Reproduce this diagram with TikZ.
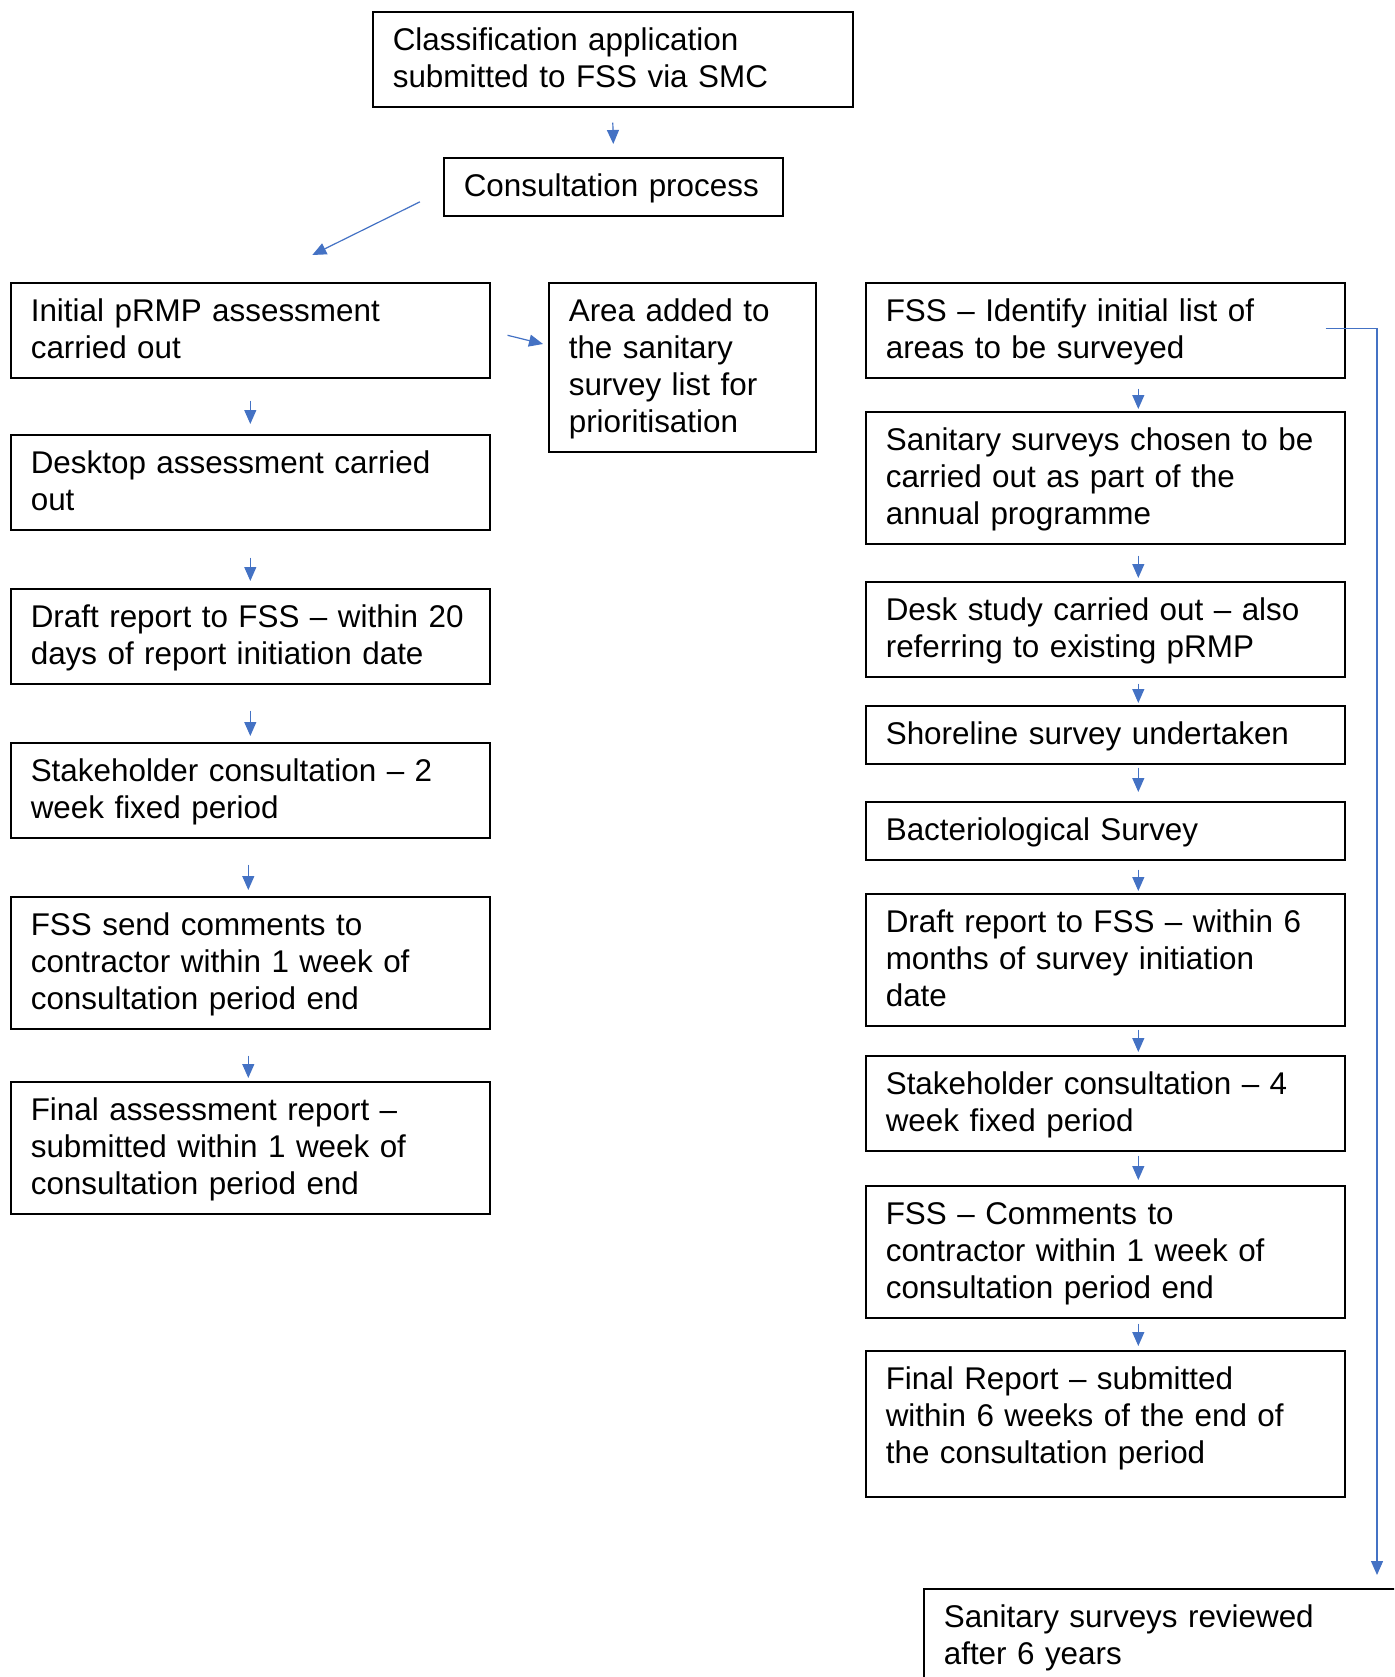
\documentclass[tikz,border=0pt]{standalone}
\usepackage{fontspec}
\setmainfont{Liberation Sans}
\usetikzlibrary{arrows.meta}
\definecolor{flowblue}{RGB}{68,114,196}
\tikzset{
  stepbox/.style={draw=black, line width=1.6pt, anchor=north west, align=left,
    inner xsep=20pt, inner ysep=10.5pt, font=\fontsize{31.4}{37}\selectfont,
    execute at begin node=\rule{0pt}{28pt},
    execute at end node=\rule[-9pt]{0pt}{9pt}},
  flow/.style={draw=flowblue, line width=1.2pt, -{Triangle[width=12pt,length=14pt]}}
}
\begin{document}
\begin{tikzpicture}[x=1pt,y=-1pt]

\useasboundingbox (0,0) rectangle (1394,1677);
\clip (0,0) rectangle (1394,1677);

% top
\node[stepbox, text width=440pt] (apply) at (372,11)
  {Classification application\\submitted to FSS via SMC};
\node[stepbox, text width=299pt] (consult) at (443,157) {Consultation process};

% left column
\node[stepbox, text width=439pt] (init) at (10,282)
  {Initial pRMP assessment\\carried out};
\node[stepbox, text width=439pt] (desktop) at (10,434)
  {Desktop assessment carried\\out};
\node[stepbox, text width=439pt] (draft) at (10,588)
  {Draft report to FSS – within 20\\days of report initiation date};
\node[stepbox, text width=439pt] (stake) at (10,742)
  {Stakeholder consultation – 2\\week fixed period};
\node[stepbox, text width=439pt] (comments) at (10,896)
  {FSS send comments to\\contractor within 1 week of\\consultation period end};
\node[stepbox, text width=439pt] (final) at (10,1081)
  {Final assessment report –\\submitted within 1 week of\\consultation period end};

% middle
\node[stepbox, text width=227pt] (area) at (548,282)
  {Area added to\\the sanitary\\survey list for\\prioritisation};

% right column
\node[stepbox, text width=439pt] (ident) at (865,282)
  {FSS – Identify initial list of\\areas to be surveyed};
\node[stepbox, text width=439pt] (chosen) at (865,411)
  {Sanitary surveys chosen to be\\carried out as part of the\\annual programme};
\node[stepbox, text width=439pt] (study) at (865,581)
  {Desk study carried out – also\\referring to existing pRMP};
\node[stepbox, text width=439pt] (shore) at (865,705)
  {Shoreline survey undertaken};
\node[stepbox, text width=439pt] (bact) at (865,801)
  {Bacteriological Survey};
\node[stepbox, text width=439pt] (draftsix) at (865,893)
  {Draft report to FSS – within 6\\months of survey initiation\\date};
\node[stepbox, text width=439pt] (stakefour) at (865,1055)
  {Stakeholder consultation – 4\\week fixed period};
\node[stepbox, text width=439pt] (fsscom) at (865,1185)
  {FSS – Comments to\\contractor within 1 week of\\consultation period end};
\node[stepbox, text width=439pt, text depth=97pt] (finalrep) at (865,1350)
  {Final Report – submitted\\within 6 weeks of the end of\\the consultation period};

\node[stepbox, text width=520pt, text depth=150pt] (review) at (923,1588)
  {Sanitary surveys reviewed\\after 6 years};

% arrows
\draw[flow] ([yshift=-15pt]apply.south) -- ([yshift=13pt]consult.north);
\draw[flow] ([xshift=-23pt,yshift=-15pt]consult.west) -- ([xshift=62pt,yshift=27pt]init.north);
\draw[flow] ([xshift=17pt,yshift=-5pt]init.east) -- ([xshift=-5pt,yshift=-62pt]area.north west);

\draw[flow] ([yshift=-22pt]init.south) -- ([yshift=10pt]desktop.north);
\draw[flow] ([yshift=-27pt]desktop.south) -- ([yshift=7pt]draft.north);
\draw[flow] ([yshift=-26pt]draft.south) -- ([yshift=6pt]stake.north);
\draw[flow] ([xshift=-2pt,yshift=-26pt]stake.south) -- ([xshift=-2pt,yshift=6pt]comments.north);
\draw[flow] ([xshift=-2pt,yshift=-26pt]comments.south) -- ([xshift=-2pt,yshift=3pt]final.north);

\draw[flow] ([xshift=33pt,yshift=-10pt]ident.south) -- ([xshift=33pt,yshift=2pt]chosen.north);
\draw[flow] ([xshift=33pt,yshift=-11pt]chosen.south) -- ([xshift=33pt,yshift=3pt]study.north);
\draw[flow] ([xshift=33pt,yshift=-6pt]study.south) -- ([xshift=33pt,yshift=2pt]shore.north);
\draw[flow] ([xshift=33pt,yshift=-3pt]shore.south) -- ([xshift=33pt,yshift=9pt]bact.north);
\draw[flow] ([xshift=33pt,yshift=-9pt]bact.south) -- ([xshift=33pt,yshift=2pt]draftsix.north);
\draw[flow] ([xshift=33pt,yshift=-3pt]draftsix.south) -- ([xshift=33pt,yshift=3pt]stakefour.north);
\draw[flow] ([xshift=33pt,yshift=-4pt]stakefour.south) -- ([xshift=33pt,yshift=5pt]fsscom.north);
\draw[flow] ([xshift=33pt,yshift=-5pt]fsscom.south) -- ([xshift=33pt,yshift=4pt]finalrep.north);

% review loop
\draw[flow] ([xshift=-20pt,yshift=2pt]ident.east) -| ([xshift=454pt,yshift=13pt]review.north west);

\end{tikzpicture}
\end{document}
